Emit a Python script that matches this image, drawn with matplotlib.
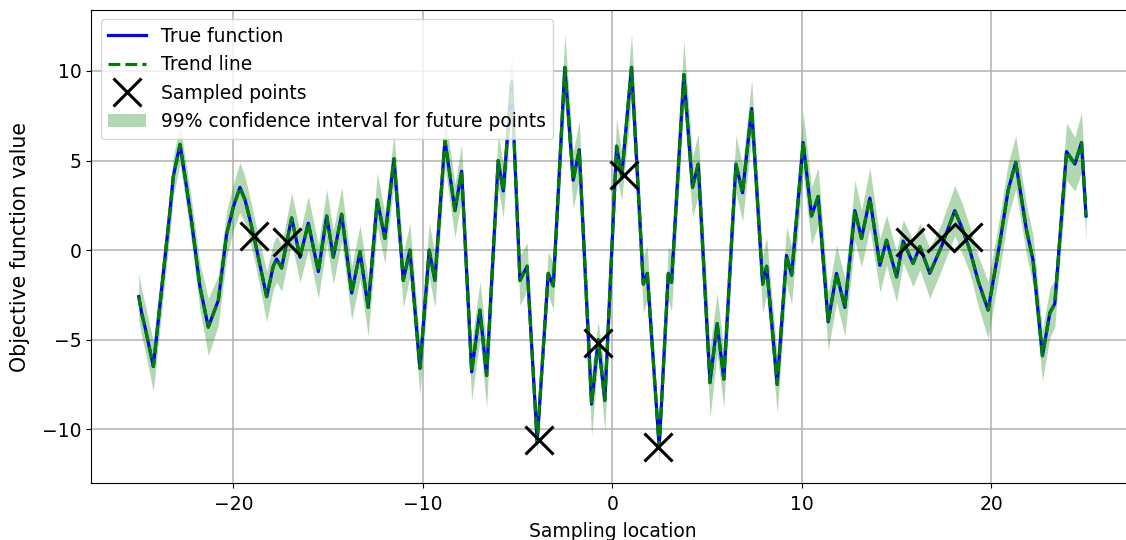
import matplotlib
matplotlib.use("Agg")
import matplotlib.pyplot as plt
from matplotlib.lines import Line2D
from matplotlib.patches import Patch

# ---- data ----
x_true = [-25.0, -24.85, -24.67, -24.23, -23.35, -23.18, -22.82, -22.56, -22.2, -21.77,
          -21.33, -20.8, -20.36, -20.01, -19.66, -19.39, -19.13, -18.87, -18.51, -18.25,
          -17.9, -17.72, -17.46, -16.93, -16.49, -16.05, -15.52, -15.08, -14.73, -14.29,
          -13.76, -13.32, -12.89, -12.41, -12.01, -11.53, -11.04, -10.69, -10.16, -9.67,
          -9.37, -8.84, -8.31, -7.96, -7.43, -6.99, -6.64, -6.03, -5.76, -5.32,
          -4.88, -4.5, -3.97, -3.39, -3.12, -2.51, -2.07, -1.75, -1.10, -0.75,
          -0.40, 0.22, 0.49, 1.01, 1.63, 1.84, 2.47, 2.95, 3.12, 3.77,
          4.23, 4.53, 5.15, 5.53, 5.88, 6.52, 6.87, 7.35, 7.93, 8.14,
          8.7, 9.19, 9.46, 10.07, 10.51, 10.86, 11.39, 11.83, 12.27, 12.8,
          13.15, 13.59, 14.12, 14.47, 15.0, 15.35, 15.87, 16.23, 16.75, 17.37,
          18.07, 18.43, 18.87, 19.3, 19.83, 20.45, 20.89, 21.29, 21.86, 22.2,
          22.7, 23.09, 23.35, 23.97, 24.41, 24.76, 25.0]
y_true = [-2.6, -3.5, -4.3, -6.5, 2.2, 4.1, 5.9, 4.1, 1.5, -2.05,
          -4.3, -2.8, 0.9, 2.4, 3.5, 2.8, 1.7, 0.5, -1.3, -2.6,
          -0.9, -0.5, -1.0, 1.8, -0.4, 1.5, -1.2, 1.9, -0.4, 2.0,
          -2.4, -0.1, -3.2, 2.8, 0.65, 5.1, -1.7, 0.0, -6.6, 0.0,
          -1.7, 6.15, 2.2, 4.4, -6.8, -3.35, -7.0, 5.0, 3.3, 9.4,
          -1.7, -0.9, -10.7, -1.3, -2.0, 10.2, 3.9, 5.6, -8.6, -5.0,
          -8.4, 5.8, 4.1, 10.2, -1.9, -1.3, -11.0, -1.3, -1.8, 9.8,
          3.5, 4.8, -7.4, -4.1, -7.2, 4.8, 3.2, 7.9, -1.9, -0.9,
          -7.5, -0.3, -1.4, 6.0, 1.9, 3.0, -4.0, -1.3, -3.2, 2.2,
          0.65, 2.9, -0.85, 0.55, -1.5, 0.5, -0.75, 0.2, -1.3, 0.2,
          2.2, 1.3, 0.0, -1.7, -3.35, 0.4, 3.35, 4.9, 1.1, -0.55,
          -5.9, -3.5, -3.0, 5.5, 4.8, 6.0, 1.9]
band_half = [1.3, 1.3, 1.3, 1.4, 1.2, 1.1, 1.1, 1.1, 1.2, 1.3,
             1.6, 1.4, 1.3, 1.3, 1.4, 1.3, 1.2, 1.2, 1.3, 1.4,
             1.3, 1.3, 1.3, 1.4, 1.4, 1.5, 1.5, 1.5, 1.5, 1.5,
             1.5, 1.5, 1.6, 1.5, 1.4, 1.4, 1.5, 1.5, 1.5, 1.5,
             1.5, 1.5, 1.5, 1.5, 1.6, 1.6, 1.8, 1.5, 1.5, 1.5,
             1.4, 1.3, 0.7, 1.2, 1.3, 1.9, 1.6, 1.6, 1.8, 1.0,
             1.7, 1.6, 1.3, 1.9, 1.6, 1.5, 0.85, 1.5, 1.6, 1.9,
             1.7, 1.7, 1.95, 1.7, 1.6, 1.6, 1.6, 1.6, 1.6, 1.6,
             1.6, 1.6, 1.6, 1.7, 1.6, 1.6, 1.6, 1.6, 1.6, 1.7,
             1.6, 1.7, 1.5, 1.4, 1.4, 1.2, 1.3, 1.3, 1.4, 1.3,
             1.4, 1.4, 1.3, 1.4, 1.6, 1.5, 1.5, 1.5, 1.4, 1.4,
             1.4, 1.4, 1.3, 1.6, 1.5, 1.7, 1.3]
x_trend = list(x_true)
y_trend = list(y_true)
x_samp = [-18.92, -17.16, -3.86, -0.75, 0.61, 2.42, 15.71, 17.37, 18.78]
y_samp = [0.78, 0.47, -10.6, -5.2, 4.19, -11.0, 0.46, 0.65, 0.74]
x_ticks = [-20, -10, 0, 10, 20]
y_ticks = [-10, -5, 0, 5, 10]

FS = 13.5
plt.rcParams['font.family'] = ['DejaVu Sans']
fig = plt.figure(figsize=(11.26, 5.4), dpi=100)
ax = fig.add_axes([91.4 / 1126, 57 / 540, 1042 / 1126, 473 / 540])

lower = [y - h for y, h in zip(y_true, band_half)]
upper = [y + h for y, h in zip(y_true, band_half)]
ax.fill_between(x_true, lower, upper, color='green', alpha=0.3, linewidth=0, zorder=1)
ax.plot(x_true, y_true, color='blue', lw=2.3, zorder=3)
ax.plot(x_trend, y_trend, color='green', lw=2.3, ls='--', zorder=4)
ax.plot(x_samp, y_samp, ls='none', marker='x', ms=20, mew=2.2, color='black', zorder=5)

ax.set_xlim(-27.5, 27.5)
ax.set_ylim(-13.0, 13.4)
ax.set_xticks(x_ticks)
ax.set_yticks(y_ticks)
ax.tick_params(labelsize=FS)
ax.tick_params(axis='x', pad=5)
ax.grid(True, color='#b0b0b0', lw=1.1)
ax.set_axisbelow(True)
ax.set_xlabel('Sampling location', fontsize=FS, labelpad=6)
ax.set_ylabel('Objective function value', fontsize=14.8, labelpad=9)

handles = [
    Line2D([], [], color='blue', lw=2.3),
    Line2D([], [], color='green', lw=2.3, ls='--'),
    Line2D([], [], ls='none', marker='x', ms=20, mew=2.2, color='black'),
    Patch(facecolor='green', alpha=0.3),
]
labels = ['True function', 'Trend line', 'Sampled points',
          '99% confidence interval for future points']
ax.legend(handles, labels, loc='upper left', fontsize=FS)

fig.savefig('out.png', dpi=100)
